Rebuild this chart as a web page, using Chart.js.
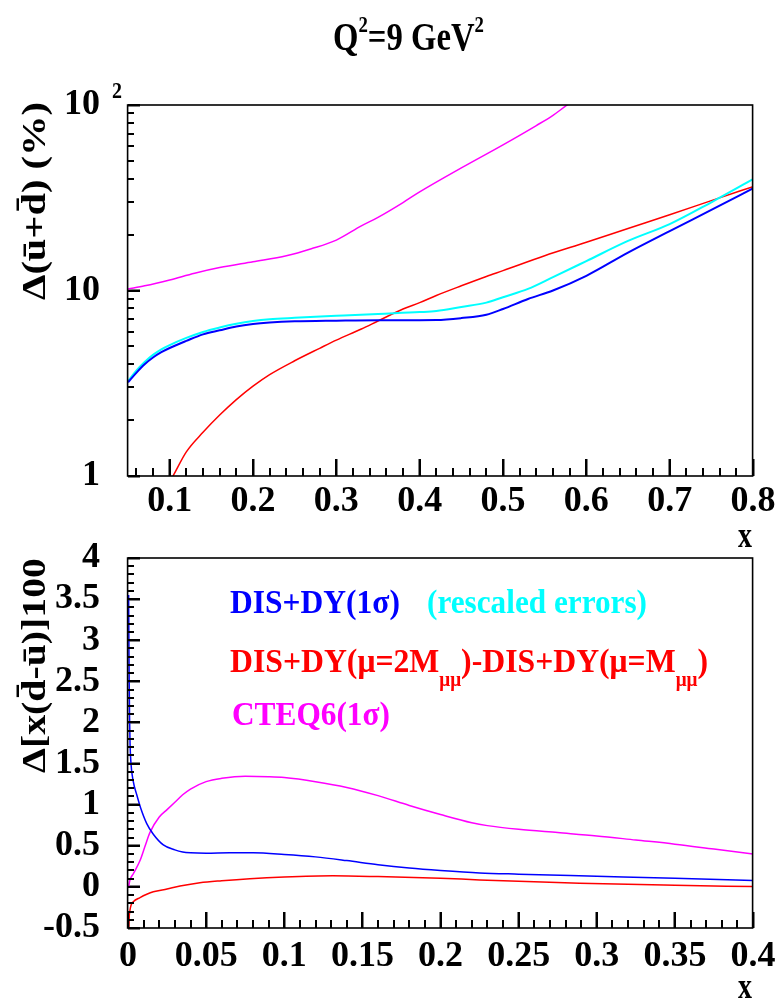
<!DOCTYPE html>
<html><head><meta charset="utf-8">
<script src="https://cdn.jsdelivr.net/npm/chart.js@4/dist/chart.umd.min.js"></script>
<style>
html,body{margin:0;padding:0;background:#fff;}
#wrap{position:relative;width:775px;height:1001px;overflow:hidden;background:#fff;}
#c1{position:absolute;left:0;top:0;}
#c2{position:absolute;left:0;top:520px;}
</style></head><body>
<div id="wrap"><canvas id="c1" width="775" height="550"></canvas><canvas id="c2" width="775" height="481"></canvas></div>
<script>
const FAM = "'Liberation Serif','Times New Roman',serif";

// ---------- top panel: Δ(ū+d̄) (%) vs x, Q²=9 GeV² ----------
const topX     = [0.05,0.06,0.07,0.08,0.09,0.10,0.12,0.14,0.16,0.18,0.20,0.22,0.25,0.30,0.35,0.40,0.42,0.45,0.48,0.50,0.53,0.56,0.60,0.65,0.70,0.75,0.80];
const topBlue  = [3.2,3.6,4.0,4.35,4.65,4.9,5.35,5.8,6.1,6.4,6.6,6.72,6.82,6.88,6.92,6.92,6.93,7.1,7.4,7.95,9.0,10.0,12.0,16.0,20.9,27.2,35.5];
const topCyan  = [3.25,3.7,4.12,4.5,4.82,5.08,5.55,5.98,6.32,6.62,6.85,7.0,7.12,7.3,7.48,7.65,7.75,8.15,8.6,9.2,10.2,11.8,14.4,18.5,22.8,29.9,39.8];
const topRedX  = [0.09,0.104,0.12,0.14,0.16,0.18,0.20,0.22,0.25,0.28,0.30,0.33,0.35,0.38,0.40,0.42,0.45,0.48,0.50,0.55,0.60,0.65,0.70,0.75,0.80];
const topRed   = [0.78,1.0,1.35,1.72,2.13,2.58,3.05,3.52,4.18,4.88,5.4,6.2,6.85,7.95,8.6,9.4,10.6,11.9,12.8,15.4,18.2,21.6,25.6,30.5,36.3];
const topMagX  = [0.05,0.07,0.10,0.13,0.16,0.20,0.24,0.27,0.30,0.33,0.35,0.38,0.40,0.45,0.50,0.54,0.56,0.577,0.60];
const topMag   = [10.2,10.6,11.4,12.4,13.3,14.3,15.4,16.8,18.7,22.3,24.8,29.8,34.0,45.8,61,77.5,88,100,117];
const topXTicks  = [0.1,0.2,0.3,0.4,0.5,0.6,0.7,0.8];
const topXLabels = ['0.1','0.2','0.3','0.4','0.5','0.6','0.7','0.8'];
const topYTicks  = [1,10,100];
const topYLabels = ['1','10','10'];

// ---------- bottom panel: Δ[x(d̄-ū)]100 vs x ----------
const botBlueX = [0.0004,0.0006,0.0008,0.001,0.0013,0.0019,0.0034,0.0056,0.0081,0.012,0.0162,0.0226,0.03,0.035,0.04,0.05,0.065,0.08,0.10,0.12,0.14,0.16,0.18,0.20,0.225,0.25,0.30,0.35,0.40];
const botBlue  = [3.55,2.9,2.4,2.05,1.75,1.5,1.28,1.12,0.96,0.77,0.64,0.51,0.45,0.425,0.415,0.41,0.415,0.415,0.395,0.365,0.32,0.27,0.23,0.20,0.17,0.155,0.13,0.105,0.077];
const botRedX  = [0.0004,0.0007,0.0012,0.002,0.0034,0.0077,0.012,0.0162,0.025,0.0333,0.046,0.06,0.078,0.10,0.131,0.16,0.20,0.225,0.25,0.289,0.35,0.40];
const botRed   = [-0.5,-0.38,-0.29,-0.22,-0.18,-0.13,-0.09,-0.06,-0.025,0.01,0.05,0.075,0.10,0.12,0.134,0.125,0.105,0.085,0.07,0.045,0.02,0.004];
const botMagX  = [0.0004,0.0012,0.0034,0.0077,0.011,0.014,0.02,0.025,0.03,0.035,0.04,0.05,0.06,0.075,0.09,0.10,0.12,0.14,0.16,0.18,0.20,0.22,0.23,0.25,0.275,0.30,0.325,0.35,0.375,0.40];
const botMag   = [0.0,0.08,0.16,0.32,0.5,0.66,0.85,0.94,1.03,1.12,1.19,1.28,1.32,1.345,1.34,1.33,1.28,1.21,1.11,0.99,0.88,0.78,0.745,0.70,0.66,0.62,0.57,0.52,0.46,0.40];
const botXTicks  = [0,0.05,0.1,0.15,0.2,0.25,0.3,0.35,0.4];
const botXLabels = ['0','0.05','0.1','0.15','0.2','0.25','0.3','0.35','0.4'];
const botYTicks  = [-0.5,0,0.5,1,1.5,2,2.5,3,3.5,4];
const botYLabels = ['-0.5','0','0.5','1','1.5','2','2.5','3','3.5','4'];

const BLUE='#0000ff', CYAN='#00ffff', RED='#ff0000', MAG='#ff00ff';

function pts(xs, ys){ return xs.map((x,i)=>({x:x, y:ys[i]})); }
function ds(label, xs, ys, color, w){
  return {label, data: pts(xs,ys), borderColor: color, backgroundColor: color, borderWidth: w,
          pointRadius: 0, fill: false, cubicInterpolationMode: 'monotone'};
}

function rich(ctx, segs, x, y, targetW, rot){
  let w = 0;
  for (const s of segs){ ctx.font = 'bold ' + s.size + 'px ' + FAM; s.w = ctx.measureText(s.t).width; w += s.w; }
  const k = targetW ? targetW / w : 1;
  ctx.save();
  ctx.translate(x, y);
  if (rot) ctx.rotate(-Math.PI/2);
  ctx.scale(k, 1);
  ctx.textBaseline = 'alphabetic'; ctx.textAlign = 'left';
  let cx = 0;
  for (const s of segs){
    ctx.font = 'bold ' + s.size + 'px ' + FAM;
    ctx.fillStyle = s.color || '#000';
    ctx.fillText(s.t, cx, s.dy || 0);
    cx += s.w;
  }
  ctx.restore();
}

function range(a, b, step){ const r=[]; for (let i=0; a+i*step<=b+1e-9; i++) r.push(+(a+i*step).toFixed(6)); return r; }

function axesPlugin(cfg){
  return {
    id: 'axes_' + cfg.name,
    afterDraw(chart){
      const ctx = chart.ctx, a = chart.chartArea, xs = chart.scales.x, ys = chart.scales.y;
      ctx.save();
      ctx.strokeStyle = '#000';
      ctx.lineWidth = 2;
      ctx.lineCap = 'butt';
      ctx.beginPath();
      for (const t of cfg.xMinor){ const p = Math.round(xs.getPixelForValue(t)); ctx.moveTo(p, a.bottom); ctx.lineTo(p, a.bottom - cfg.xMinorLen); }
      for (const t of cfg.xMajor){ const p = Math.round(xs.getPixelForValue(t)); ctx.moveTo(p, a.bottom); ctx.lineTo(p, a.bottom - cfg.xMajorLen); }
      for (const t of cfg.yMinor){ const p = Math.round(ys.getPixelForValue(t)); ctx.moveTo(a.left, p); ctx.lineTo(a.left + cfg.yMinorLen, p); }
      for (const t of cfg.yMajor){ const p = Math.round(ys.getPixelForValue(t)); ctx.moveTo(a.left, p); ctx.lineTo(a.left + cfg.yMajorLen, p); }
      ctx.stroke();
      ctx.lineWidth = 1.6;
      ctx.strokeRect(a.left - 0.4, a.top, a.right - a.left, a.bottom - a.top);
      ctx.restore();
      cfg.texts(ctx, chart);
    }
  };
}

const tickFont = {family: FAM, weight: 'bold', size: 36};

function baseOptions(o){
  return {
    responsive: false, animation: false, devicePixelRatio: 1,
    layout: {padding: {left: 0, right: 22, top: o.padTop, bottom: 0}},
    plugins: {legend: {display: false}, tooltip: {enabled: false}, title: {display: false}},
    scales: {
      x: {
        type: 'linear', min: o.xmin, max: o.xmax,
        grid: {display: true, drawOnChartArea: false, drawTicks: true, tickLength: -o.xMajLen,
               color: 'rgba(0,0,0,0)', tickColor: '#000', tickWidth: 2},
        border: {display: false},
        afterBuildTicks: ax => { ax.ticks = o.xTicks.map(v => ({value: v})); },
        afterFit: ax => { ax.height = o.xH; ax.paddingLeft = 0; ax.paddingRight = 0; },
        ticks: {font: tickFont, color: '#000', padding: o.xPad + o.xMajLen, autoSkip: false, maxRotation: 0,
                callback: (v, i) => o.xLabels[i]}
      },
      y: {
        type: o.yType, min: o.ymin, max: o.ymax,
        grid: {display: true, drawOnChartArea: false, drawTicks: true, tickLength: -12,
               color: 'rgba(0,0,0,0)', tickColor: '#000', tickWidth: 2},
        border: {display: false},
        afterBuildTicks: ax => { ax.ticks = o.yTicks.map(v => ({value: v})); },
        afterFit: ax => { ax.width = 128; ax.paddingTop = 0; ax.paddingBottom = 0; },
        ticks: {font: tickFont, color: '#000', padding: 28 + 12, autoSkip: false,
                callback: (v, i) => o.yLabels[i]}
      }
    }
  };
}

// ---------- top chart ----------
const topMinorY = [2,3,4,5,6,7,8,9,20,30,40,50,60,70,80,90];
new Chart(document.getElementById('c1'), {
  type: 'line',
  data: {datasets: [
    ds('DIS+DY(1σ)', topX, topBlue, BLUE, 2),
    ds('rescaled errors', topX, topCyan, CYAN, 2),
    ds('DIS+DY(μ=2Mμμ)-DIS+DY(μ=Mμμ)', topRedX, topRed, RED, 1.5),
    ds('CTEQ6(1σ)', topMagX, topMag, MAG, 1.5)
  ]},
  options: baseOptions({padTop: 105, xmin: 0.05, xmax: 0.8, xTicks: topXTicks, xLabels: topXLabels, xH: 74, xPad: 4, xMajLen: 17,
                        yType: 'logarithmic', ymin: 1, ymax: 100, yTicks: topYTicks, yLabels: topYLabels}),
  plugins: [axesPlugin({
    name: 'top',
    xMajor: topXTicks, xMinor: range(0.06, 0.8, 0.02), xMajorLen: 17, xMinorLen: 8,
    yMajor: [1,10,100], yMinor: topMinorY, yMajorLen: 12, yMinorLen: 6,
    texts(ctx, chart){
      rich(ctx, [{t:'Q',size:40},{t:'2',size:23,dy:-18},{t:'=9 GeV',size:40},{t:'2',size:23,dy:-18}], 333, 50, 151);
      rich(ctx, [{t:'2',size:23}], 112, 98, 10);
      rich(ctx, [{t:'Δ(ū+d\u0304) (%)',size:34}], 45, 300, 198, true);
      rich(ctx, [{t:'x',size:35}], 738, 547, 14);
    }
  })]
});

// ---------- bottom chart ----------
new Chart(document.getElementById('c2'), {
  type: 'line',
  data: {datasets: [
    ds('DIS+DY(1σ)', botBlueX, botBlue, BLUE, 1.5),
    ds('DIS+DY(μ=2Mμμ)-DIS+DY(μ=Mμμ)', botRedX, botRed, RED, 1.5),
    ds('CTEQ6(1σ)', botMagX, botMag, MAG, 1.5)
  ]},
  options: baseOptions({padTop: 38, xmin: 0, xmax: 0.4, xTicks: botXTicks, xLabels: botXLabels, xH: 73, xPad: 7, xMajLen: 16,
                        yType: 'linear', ymin: -0.5, ymax: 4, yTicks: botYTicks, yLabels: botYLabels}),
  plugins: [axesPlugin({
    name: 'bot',
    xMajor: botXTicks, xMinor: range(0.01, 0.39, 0.01), xMajorLen: 16, xMinorLen: 8,
    yMajor: botYTicks, yMinor: range(-0.4, 3.9, 0.1), yMajorLen: 12, yMinorLen: 6,
    texts(ctx, chart){
      rich(ctx, [{t:'Δ[x(d\u0304-ū)]100',size:34}], 45, 253, 215, true);
      rich(ctx, [{t:'DIS+DY(1σ)',size:33,color:BLUE}], 230, 93, 170);
      rich(ctx, [{t:'(rescaled errors)',size:33,color:CYAN}], 427, 93, 220);
      rich(ctx, [{t:'DIS+DY(μ=2M',size:33,color:RED},{t:'μμ',size:20,dy:14,color:RED},
                 {t:')-DIS+DY(μ=M',size:33,color:RED},{t:'μμ',size:20,dy:14,color:RED},{t:')',size:33,color:RED}], 230, 152, 478);
      rich(ctx, [{t:'CTEQ6(1σ)',size:33,color:MAG}], 232, 205, 158);
      rich(ctx, [{t:'x',size:35}], 738, 478, 14);
    }
  })]
});
</script>
</body></html>
